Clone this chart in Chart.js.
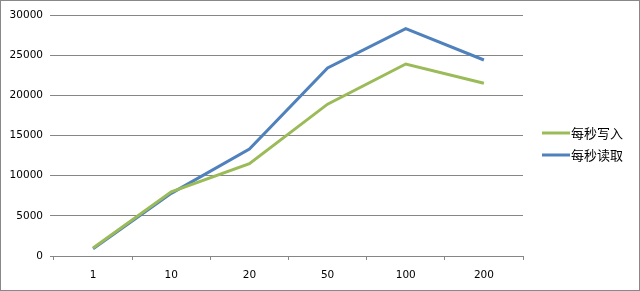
<!DOCTYPE html>
<html>
<head>
<meta charset="utf-8">
<script src="https://cdn.jsdelivr.net/npm/chart.js@4"></script>
<style>
  body { margin: 0; background: #fff; }
  #wrap { width: 640px; height: 291px; }
</style>
</head>
<body>
<div id="wrap"><canvas id="perfChart" width="640" height="291"></canvas></div>
<script>
// 数据
const categories = ['1', '10', '20', '50', '100', '200'];
const writePerSec = [1000, 8000, 11500, 18900, 23900, 21500];
const readPerSec = [900, 7800, 13300, 23400, 28300, 24400];
const yTicks = [0, 5000, 10000, 15000, 20000, 25000, 30000];

const gridColor = '#868686';

// legend drawn on the right, Excel style
const sideLegend = {
    id: 'sideLegend',
    afterDraw(chart) {
        const ctx = chart.ctx;
        ctx.save();
        ctx.font = '13px "Noto Sans CJK SC"';
        ctx.textBaseline = 'middle';
        chart.data.datasets.forEach((ds, i) => {
            const y = 133 + i * 22;
            ctx.strokeStyle = ds.borderColor;
            ctx.lineWidth = 3;
            ctx.beginPath();
            ctx.moveTo(542, y);
            ctx.lineTo(570, y);
            ctx.stroke();
            ctx.fillStyle = '#000';
            ctx.fillText(ds.label, 571, y);
        });
        ctx.restore();
    },
    beforeDraw(chart) {
        const ctx = chart.ctx;
        ctx.save();
        ctx.fillStyle = '#fff';
        ctx.fillRect(0, 0, chart.width, chart.height);
        ctx.strokeStyle = '#888';
        ctx.lineWidth = 1;
        ctx.strokeRect(0.5, 0.5, chart.width - 1, chart.height - 1);
        ctx.restore();
    }
};

let ctx = document.getElementById('perfChart').getContext('2d');
let perfChart = new Chart(ctx, {
    type: 'line',
    data: {
        labels: categories,
        datasets: [{
            label: '每秒写入',
            data: writePerSec,
            borderColor: '#9BBB59',
            borderWidth: 3,
            pointRadius: 0,
            tension: 0
        }, {
            label: '每秒读取',
            data: readPerSec,
            borderColor: '#4F81BD',
            borderWidth: 3,
            pointRadius: 0,
            tension: 0
        }]
    },
    options: {
        responsive: false,
        animation: false,
        layout: { padding: { left: 0, right: 117, top: 15, bottom: 0 } },
        plugins: { legend: { display: false }, tooltip: { enabled: false } },
        scales: {
            x: {
                offset: true,
                afterFit(scale) { scale.height = 35; },
                grid: { offset: true, drawOnChartArea: false, color: gridColor, tickLength: 4 },
                border: { color: gridColor },
                ticks: { color: '#000', padding: 9, font: { family: 'DejaVu Sans', size: 10.5 } }
            },
            y: {
                min: 0,
                max: 30000,
                afterFit(scale) { scale.width = 54; },
                afterBuildTicks(scale) { scale.ticks = yTicks.map(v => ({ value: v })); },
                grid: { color: gridColor, tickLength: 4 },
                border: { display: false },
                ticks: {
                    color: '#000',
                    padding: 7,
                    font: { family: 'DejaVu Sans', size: 10.5 },
                    callback: value => String(value)
                }
            }
        }
    },
    plugins: [sideLegend]
});
</script>
</body>
</html>
